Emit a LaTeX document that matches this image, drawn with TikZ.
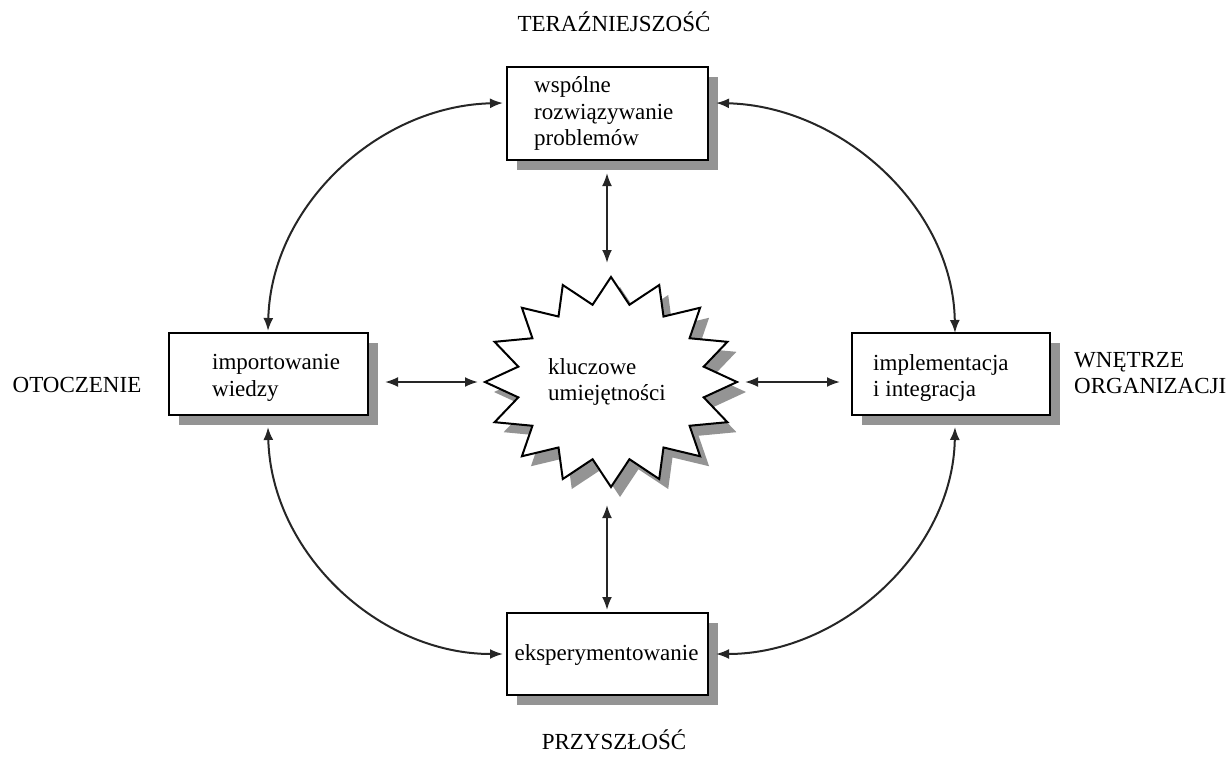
\documentclass[tikz,border=0pt]{standalone}
\usepackage{fontspec}
\setmainfont{Liberation Serif}
\usetikzlibrary{arrows.meta,shadows}

% sixteen-pointed burst: centre x, centre y, outer radii rx/ry
\newcommand{\burstpath}[4]{%
  (#1+#3,#2)
  \foreach \k in {0,...,15}{
    -- ({#1+0.75*#3*cos(\k*22.5+11.25)},{#2+0.75*#4*sin(\k*22.5+11.25)})
    -- ({#1+#3*cos(\k*22.5+22.5)},{#2+#4*sin(\k*22.5+22.5)})
  } -- cycle}

\begin{document}
\begin{tikzpicture}[x=1pt,y=-1pt,
  font=\fontsize{23}{26.5}\selectfont,
  box/.style={draw=black, line width=2.4pt, fill=white, inner sep=0pt,
    drop shadow={shadow xshift=10pt, shadow yshift=-10pt, fill=black!42, opacity=1}},
  boxtext/.style={align=left, inner sep=0pt, anchor=west},
  link/.style={draw=black!85, line width=2pt,
    {Latex[length=13pt,width=10pt]}-{Latex[length=13pt,width=10pt]}},
  caption/.style={inner sep=0pt, align=left}
]
\useasboundingbox (0,0) rectangle (1231,756);

% boxes
\node[box, minimum width=201pt, minimum height=93pt] (top) at (607.5,113.5) {};
\node[box, minimum width=199pt, minimum height=82pt] (left) at (268.5,374) {};
\node[box, minimum width=198pt, minimum height=82pt] (right) at (951,374) {};
\node[box, minimum width=201pt, minimum height=82pt] (bottom) at (607.5,654) {};

\node[boxtext] (toptext) at (534,113.5) {wspólne\\rozwiązywanie\\problemów};
\node[boxtext] (lefttext) at (212,378) {importowanie\\wiedzy};
\node[boxtext] (righttext) at (873,378) {implementacja\\i integracja};
\node[inner sep=0pt] (bottomtext) at (606.5,655) {eksperymentowanie};

% central burst with its shadow
\fill[black!42] \burstpath{620}{392}{126}{105};
\draw[line width=2pt, fill=white, line join=miter, miter limit=10] \burstpath{611}{382}{126}{105};
\node[align=left, inner sep=0pt] (core) at (607,382) {kluczowe\\umiejętności};

% outer labels
\node[caption] (now) at (614,22) {TERAŹNIEJSZOŚĆ};
\node[caption] (env) at (77,385) {OTOCZENIE};
\node[caption, anchor=west] (inside) at (1074,373) {WNĘTRZE\\ORGANIZACJI};
\node[caption] (future) at (614,740) {PRZYSZŁOŚĆ};

% connector end points
\coordinate (tW) at (503,103);
\coordinate (tE) at (716,103);
\coordinate (tS) at (607,173);
\coordinate (lN) at (268,331);
\coordinate (lS) at (268,427);
\coordinate (lE) at (385,382);
\coordinate (rN) at (955,333);
\coordinate (rS) at (955,427);
\coordinate (rW) at (840,382);
\coordinate (bW) at (503,654);
\coordinate (bE) at (716,654);
\coordinate (bN) at (607,610);
\coordinate (cN) at (607,263);
\coordinate (cS) at (607,505);
\coordinate (cW) at (478,382);
\coordinate (cE) at (745,382);

% ring of curved arrows
\draw[link] (lN) .. controls (271,206) and (378,106) .. (tW);
\draw[link] (tE) .. controls (840,106) and (953,206) .. (rN);
\draw[link] (lS) .. controls (271,552) and (378,654) .. (bW);
\draw[link] (bE) .. controls (840,654) and (953,552) .. (rS);

% spokes to the centre
\draw[link] (tS) -- (cN);
\draw[link] (cS) -- (bN);
\draw[link] (lE) -- (cW);
\draw[link] (cE) -- (rW);
\end{tikzpicture}
\end{document}
